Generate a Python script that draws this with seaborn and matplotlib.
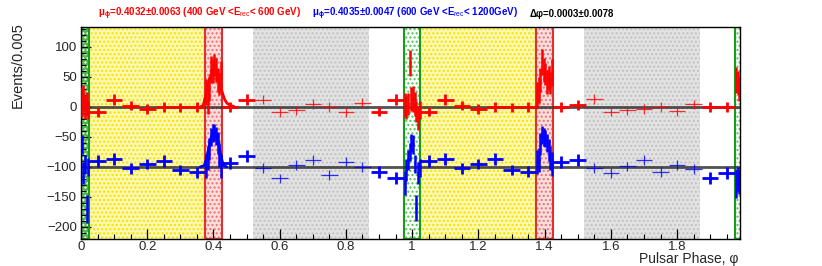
import numpy as np
import matplotlib
matplotlib.use("Agg")
import matplotlib.pyplot as plt
import seaborn as sns

# phase-ogram, two cycles. wide bins: width 0.05
wide_x = [0.05, 0.10, 0.15, 0.20, 0.25, 0.30, 0.35, 0.45, 0.50, 0.90, 0.95,
          1.05, 1.10, 1.15, 1.20, 1.25, 1.30, 1.35, 1.45, 1.50, 1.90, 1.95]
red_wide_y = [-9, 12, 2, -4, 0, -1, 0, 0, 12, -8, 12,
              -8, 12, 2, -4, 0, -1, 0, 0, 3, 0, 0]
red_wide_err = [8, 9, 8, 8, 8, 8, 8, 8, 9, 8, 9,
                8, 9, 8, 8, 8, 8, 8, 8, 8, 8, 8]
blue_wide_y = [-90, -87, -102, -95, -90, -105, -109, -93, -82, -108, -119,
               -90, -87, -102, -95, -87, -105, -108, -91, -88, -119, -110]
blue_wide_err = [10, 10, 9, 9, 10, 9, 9, 10, 10, 10, 10,
                 10, 10, 9, 9, 10, 9, 9, 10, 10, 10, 10]

# off-pulse (gray) bins, drawn thin
gray_x = [0.55, 0.60, 0.65, 0.70, 0.75, 0.80, 0.85,
          1.55, 1.60, 1.65, 1.70, 1.75, 1.80, 1.85]
red_gray_y = [12, -9, -6, 5, 0, -9, 7, 13, -8, -6, -4, 0, -7, 4]
blue_gray_y = [-102, -119, -97, -88, -113, -91, -100,
               -102, -110, -99, -88, -108, -97, -103]
gray_err = [8, 8, 8, 8, 8, 8, 8, 8, 8, 8, 8, 8, 8, 8]

# narrow bins: width 0.005 (peaks and cycle edges)
narrow_x = [0.0025, 0.0075, 0.0125, 0.0175, 0.0225,
            0.3775, 0.3825, 0.3875, 0.3925, 0.3975, 0.4025, 0.4075, 0.4125, 0.4175, 0.4225,
            0.9775, 0.9825, 0.9875, 0.9925, 0.9975,
            1.0025, 1.0075, 1.0125, 1.0175, 1.0225,
            1.3775, 1.3825, 1.3875, 1.3925, 1.3975, 1.4025, 1.4075, 1.4125, 1.4175, 1.4225,
            1.9775, 1.9825, 1.9875]
red_narrow_y = [8, 15, 0, 5, -5,
                25, 10, 30, 62, 60, 70, 62, 45, 38, 55,
                3, 0, 5, 73, 13,
                13, 5, -8, -18, -5,
                20, 28, 45, 75, 62, 55, 42, 48, 40, 57,
                45, 40, 30]
red_narrow_err = [25, 22, 20, 20, 15,
                  22, 22, 20, 22, 20, 18, 20, 20, 18, 22,
                  20, 20, 18, 22, 20,
                  22, 20, 18, 20, 15,
                  22, 22, 20, 22, 20, 18, 20, 20, 18, 22,
                  22, 20, 20]
blue_narrow_y = [-62, -110, -95, -170, -100,
                 -98, -85, -70, -50, -43, -43, -48, -60, -80, -98,
                 -127, -105, -88, -75, -60,
                 -62, -95, -168, -110, -102,
                 -92, -88, -62, -47, -50, -52, -60, -72, -85, -95,
                 -128, -120, -125]
blue_narrow_err = [16, 18, 15, 23, 15,
                   20, 20, 18, 15, 15, 14, 15, 18, 20, 20,
                   20, 18, 17, 15, 15,
                   16, 15, 22, 18, 15,
                   20, 20, 18, 15, 15, 14, 15, 18, 20, 20,
                   24, 20, 20]

# fitted pulse shapes (first cycle)
red_curve_x = [0.360, 0.369, 0.376, 0.384, 0.390, 0.396, 0.404, 0.412, 0.418,
               0.424, 0.429, 0.434, 0.441, 0.449, 0.464]
red_curve_y = [0, 2, 18, 37, 50, 59, 65, 54, 41, 29, 20, 12, 6, 3, 0]
blue_curve_x = [0.360, 0.372, 0.378, 0.384, 0.390, 0.396, 0.402, 0.408, 0.414,
                0.420, 0.426, 0.432, 0.440]
blue_curve_y = [-100, -98, -88, -73, -58, -46, -40, -45, -57, -75, -90, -98, -100]

baselines = [0, -100]

# phase regions
green_spans = [(0.0, 0.025), (0.975, 1.025), (1.975, 2.0)]
yellow_spans = [(0.025, 0.375), (1.025, 1.375)]
peak_spans = [(0.375, 0.425), (1.375, 1.425)]
gray_spans = [(0.52, 0.87), (1.52, 1.87)]

title_red = r"$\mu_{\phi}$=0.4032±0.0063 (400 GeV <E$_{\rm rec}$< 600 GeV)"
title_blue = r"$\mu_{\phi}$=0.4035±0.0047 (600 GeV <E$_{\rm rec}$< 1200GeV)"
title_diff = "Δφ=0.0003±0.0078"

sns.set_theme(style="ticks")
plt.rcParams["font.family"] = ["Liberation Sans", "DejaVu Sans"]
plt.rcParams["mathtext.fontset"] = "custom"
plt.rcParams["mathtext.rm"] = "Liberation Sans"
plt.rcParams["mathtext.it"] = "Liberation Sans:italic"
plt.rcParams["mathtext.bf"] = "Liberation Sans:bold"
plt.rcParams["mathtext.default"] = "regular"
plt.rcParams["hatch.linewidth"] = 1.0
plt.rcParams["axes.linewidth"] = 1.0

RED = "#ff0000"
BLUE = "#0000ff"

fig = plt.figure(figsize=(8.22, 2.66), dpi=100)
ax = fig.add_axes([81 / 822, 1 - 239 / 266, 659 / 822, 212 / 266])


def shade(x0, x1, face, hatch_col, border=None, blw=1.4):
    ax.axvspan(x0, x1, facecolor=face, edgecolor=hatch_col, hatch="....", lw=0, zorder=0)
    if border:
        ax.axvspan(x0, x1, facecolor="none", edgecolor=border, lw=blw, zorder=1)


for x0, x1 in yellow_spans:
    shade(x0, x1, "#fdf7b0", "#f2e400")
for x0, x1 in gray_spans:
    shade(x0, x1, "#e2e2e2", "#c2c2c2")
for x0, x1 in peak_spans:
    shade(x0, x1, "#f9dede", "#ee7070", border="#e03030", blw=1.5)
for i, (x0, x1) in enumerate(green_spans):
    face = "#4fb84f" if i == 0 else "#ffffff"
    hatch = "#ffffff" if i == 0 else "#4fc04f"
    shade(x0, x1, face, hatch, border="#1a9a1a", blw=1.5)

for b in baselines:
    sns.lineplot(x=[0, 2], y=[b, b], color="#333333", lw=2.0, alpha=0.85, ax=ax, zorder=2)

# thick points
ax.errorbar(wide_x, red_wide_y, xerr=0.025, yerr=red_wide_err, fmt="none",
            ecolor=RED, elinewidth=2.0, capsize=0, zorder=3)
ax.errorbar(wide_x, blue_wide_y, xerr=0.025, yerr=blue_wide_err, fmt="none",
            ecolor=BLUE, elinewidth=2.0, capsize=0, zorder=3)
# thin points in the off-pulse region
ax.errorbar(gray_x, red_gray_y, xerr=0.025, yerr=gray_err, fmt="none",
            ecolor=RED, elinewidth=0.9, capsize=0, alpha=0.8, zorder=3)
ax.errorbar(gray_x, blue_gray_y, xerr=0.025, yerr=gray_err, fmt="none",
            ecolor=BLUE, elinewidth=0.9, capsize=0, alpha=0.8, zorder=3)
# narrow bins
ax.errorbar(narrow_x, red_narrow_y, xerr=0.0025, yerr=red_narrow_err, fmt="none",
            ecolor=RED, elinewidth=1.8, capsize=0, zorder=3)
ax.errorbar(narrow_x, blue_narrow_y, xerr=0.0025, yerr=blue_narrow_err, fmt="none",
            ecolor=BLUE, elinewidth=1.8, capsize=0, zorder=3)

sns.lineplot(x=red_curve_x, y=red_curve_y, color=RED, lw=2.0, sort=False, ax=ax, zorder=4)
sns.lineplot(x=blue_curve_x, y=blue_curve_y, color=BLUE, lw=2.0, sort=False, ax=ax, zorder=4)

ax.set_xlim(0, 1.99)
ax.set_ylim(-220, 133)
ax.set_xticks(np.arange(0, 1.95, 0.2))
ax.set_xticks(np.arange(0, 1.99, 0.05), minor=True)
ax.set_yticks([-200, -150, -100, -50, 0, 50, 100])
ax.set_yticks(np.arange(-220, 131, 10), minor=True)
ax.set_xticklabels(["0", "0.2", "0.4", "0.6", "0.8", "1", "1.2", "1.4", "1.6", "1.8"])
ax.tick_params(which="major", direction="in", length=7, width=0.9, labelsize=9.5,
               color="black")
ax.tick_params(axis="y", which="major", pad=3)
ax.tick_params(axis="x", which="major", pad=1.5)
ax.tick_params(which="minor", direction="in", length=3.5, width=0.8, color="black")
ax.tick_params(axis="both", which="both", top=False, right=False)
for s in ax.spines.values():
    s.set_color("black")
ax.set_xlabel("")
ax.set_ylabel("")

fig.text(18 / 822, 1 - 65 / 266, "Events/0.005", rotation=90, ha="center", va="center", fontsize=10.5)
fig.text(738 / 822, 1 - 259 / 266, "Pulsar Phase, φ", ha="right", va="center", fontsize=10)

fig.text(98 / 822, 1 - 14 / 266, title_red, color=RED, fontsize=7, fontweight="bold", va="center")
fig.text(312 / 822, 1 - 14 / 266, title_blue, color=BLUE, fontsize=7, fontweight="bold", va="center")
fig.text(530 / 822, 1 - 14 / 266, title_diff, color="black", fontsize=7, fontweight="bold", va="center")

fig.savefig("out.png", dpi=100)
